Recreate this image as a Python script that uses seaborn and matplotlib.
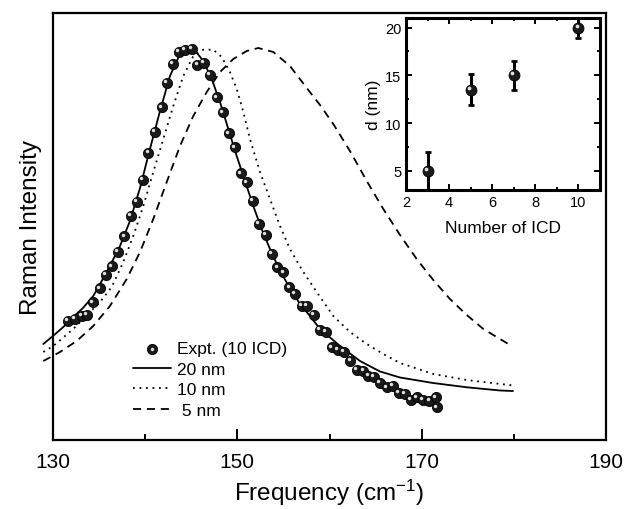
import matplotlib
matplotlib.use("Agg")
import matplotlib.pyplot as plt
import matplotlib.transforms as mtransforms
from matplotlib.legend_handler import HandlerTuple
import seaborn as sns

# ---------------- data ----------------
expt_freq = [131.66, 132.39, 133.11, 133.66, 134.37, 135.10, 135.75, 136.37, 137.08, 137.74,
             138.43, 139.08, 139.73, 140.34, 141.07, 141.79, 142.40, 143.05, 143.70, 144.32,
             145.05, 145.66, 146.38, 147.03, 147.76, 148.41, 149.10, 149.75, 150.37, 151.02,
             151.67, 152.35, 153.08, 153.73, 154.34, 154.99, 155.64, 156.26, 156.98, 157.56,
             158.29, 159.00, 159.65, 160.24, 160.95, 161.57, 162.26, 162.95, 163.67, 164.21,
             164.83, 165.48, 166.21, 166.89, 167.54, 168.19, 168.81, 169.46, 170.11, 170.83,
             171.56, 171.63]
expt_int = [119.3, 121, 124.3, 125, 137.7, 151.7, 165, 173.7, 188.3, 203.7,
            224.3, 238.3, 260.3, 287, 308.3, 332.7, 357, 376, 388.3, 390,
            391, 375, 377, 365, 342.7, 327.7, 306.7, 292.7, 266.7, 257.7,
            239.3, 216, 205, 186, 172.7, 167.7, 152.7, 146, 134.5, 134.5,
            125.5, 110, 108, 92.7, 90.5, 88.3, 79.3, 70, 69.5, 64.3,
            63, 57, 52.7, 54, 47, 46, 40.3, 42.7, 40.3, 39.3,
            42.7, 32.7]

fit20_freq = [128.95, 130.03, 131.12, 132.20, 133.25, 134.37, 135.83, 137.27, 138.35, 139.44,
              140.52, 141.61, 142.69, 143.78, 144.68, 145.41, 146.31, 147.22, 148.12, 149.02,
              149.93, 150.83, 151.73, 152.64, 153.54, 154.63, 155.71, 156.80, 157.88, 158.97,
              160.38, 161.14, 163.31, 165.48, 167.65, 171.23, 174.92, 178.50, 179.91]
fit20_int = [96, 104.3, 113, 123, 132, 144, 168, 194, 219, 252,
             291, 329, 364, 386, 390.5, 389.5, 379, 361, 338, 311,
             284, 259, 234, 211, 191, 169, 152, 136, 124, 111,
             100, 94, 79, 68.5, 62.5, 57, 52.7, 49.5, 49]

fit10_freq = [128.95, 130.03, 132.20, 135.10, 136.37, 137.63, 138.71, 139.80, 140.88, 141.97,
              143.05, 144.14, 145.22, 146.31, 147.39, 148.30, 149.20, 149.93, 150.65, 151.37,
              152.46, 153.54, 154.63, 155.71, 157.02, 158.61, 160.41, 162.22, 164.04, 165.84,
              167.65, 171.26, 174.89, 179.94]
fit10_int = [88, 94, 111, 138, 153, 178, 204, 234, 268, 301,
             334, 364, 384, 390.3, 390.3, 383, 368, 351, 328, 301,
             268, 241, 214, 191, 170, 148, 124, 108, 96, 86,
             77, 66, 60, 54.5]

fit5_freq = [128.95, 130.76, 132.57, 134.37, 136.18, 138.00, 139.44, 140.88, 142.34, 143.78,
             145.22, 146.68, 148.12, 149.56, 151.02, 152.28, 153.90, 155.71, 157.53, 158.97,
             160.41, 162.22, 164.04, 165.84, 167.65, 169.46, 171.26, 173.07, 174.89, 176.69,
             179.77]
fit5_int = [79, 88, 99, 114, 134, 161, 188, 221, 258, 294,
            324, 348, 368, 381, 389, 392, 388, 374, 352, 335,
            316, 289, 259, 231, 205, 181, 160, 141, 125, 111,
            94]

icd_num = [3, 5, 7, 10]
icd_d = [5.0, 13.5, 15.0, 20.0]
icd_err = [2.0, 1.65, 1.55, 1.1]

legend_labels = ["Expt. (10 ICD)", "20 nm", "10 nm", " 5 nm"]

# ---------------- style ----------------
sns.set_theme(style="ticks")
plt.rcParams["font.family"] = ["Liberation Sans", "DejaVu Sans"]
plt.rcParams["mathtext.default"] = "regular"
plt.rcParams["axes.edgecolor"] = "black"
plt.rcParams["xtick.color"] = "black"
plt.rcParams["ytick.color"] = "black"
plt.rcParams["text.color"] = "black"
plt.rcParams["axes.labelcolor"] = "black"

fig = plt.figure(figsize=(6.26, 5.10), dpi=100)
fig.patch.set_facecolor("white")

# ---------------- main axes ----------------
ax = fig.add_axes([53 / 626, 1 - 441 / 510, 553 / 626, 427 / 510])

lw = 1.3
sns.lineplot(x=fit20_freq, y=fit20_int, ax=ax, color="black", lw=lw,
             sort=False, estimator=None)
l20 = ax.lines[-1]
sns.lineplot(x=fit10_freq, y=fit10_int, ax=ax, color="black", lw=lw,
             sort=False, estimator=None)
l10 = ax.lines[-1]
l10.set_linestyle((0, (1.0, 2.6)))
sns.lineplot(x=fit5_freq, y=fit5_int, ax=ax, color="black", lw=lw,
             sort=False, estimator=None)
l5 = ax.lines[-1]
l5.set_linestyle((0, (4.5, 3.2)))
for ln in (l20, l10, l5):
    ln.set_clip_on(False)
    ln.set_solid_joinstyle("round")

# shaded "sphere" markers
sc_base = ax.scatter(expt_freq, expt_int, s=54, color="#1a1a1a",
                     edgecolor="black", linewidth=0.6, zorder=5)
hl_tr = mtransforms.offset_copy(ax.transData, fig=fig, x=-1.8, y=1.8, units="dots")
sc_hl = ax.scatter(expt_freq, expt_int, s=6, color="#e0e0e0",
                   linewidth=0, zorder=6, transform=hl_tr)

ax.set_xlim(130, 190)
ax.set_ylim(0, 427)
ax.set_yticks([])
ax.set_xticks([130, 150, 170, 190])
ax.set_xticks([140, 160, 180], minor=True)
ax.tick_params(axis="x", which="major", direction="in", length=8, width=1.4,
               labelsize=15, pad=9)
ax.tick_params(axis="x", which="minor", direction="in", length=4, width=1.4)
for sp in ax.spines.values():
    sp.set_linewidth(1.6)
    sp.set_color("black")
ax.set_xlabel("Frequency (cm$^{-1}$)", fontsize=17.5, labelpad=4)
ax.set_ylabel("Raman Intensity", fontsize=17.5, labelpad=8)

leg = ax.legend([(sc_base, sc_hl), l20, l10, l5], legend_labels,
                handler_map={tuple: HandlerTuple(ndivide=1)},
                loc="upper left", bbox_to_anchor=(80 / 553, (441 - 342) / 427),
                frameon=False, fontsize=12.5, handlelength=2.2,
                handletextpad=0.35, labelspacing=0.31, borderaxespad=0,
                borderpad=0)

# ---------------- inset ----------------
axi = fig.add_axes([406 / 626, 1 - 191 / 510, 194 / 626, 172 / 510])
axi.errorbar(icd_num, icd_d, yerr=icd_err, fmt="none", ecolor="black",
             elinewidth=2.2, capsize=2.2, capthick=2.0, zorder=3)
sns.scatterplot(x=icd_num, y=icd_d, ax=axi, s=62, color="#1a1a1a",
                edgecolor="black", linewidth=0.6, zorder=5)
hl_tr2 = mtransforms.offset_copy(axi.transData, fig=fig, x=-1.9, y=1.9, units="dots")
axi.scatter(icd_num, icd_d, s=7, color="#e0e0e0", linewidth=0, zorder=6,
            transform=hl_tr2)
axi.set_xlim(2, 11)
axi.set_ylim(3, 21)
axi.set_xticks([2, 4, 6, 8, 10])
axi.set_xticks([3, 5, 7, 9, 11], minor=True)
axi.set_yticks([5, 10, 15, 20])
axi.set_yticks([7.5, 12.5, 17.5], minor=True)
axi.tick_params(which="both", direction="in", top=True, right=True,
                width=1.4, labelsize=10.5, pad=3.5)
axi.tick_params(which="major", length=4)
axi.tick_params(which="minor", length=2.5)
for sp in axi.spines.values():
    sp.set_linewidth(2.2)
    sp.set_color("black")
axi.set_xlabel("Number of ICD", fontsize=12.5, labelpad=8)
axi.set_ylabel("d (nm)", fontsize=12.5, labelpad=3)

fig.savefig("out.png", dpi=100, facecolor="white")
